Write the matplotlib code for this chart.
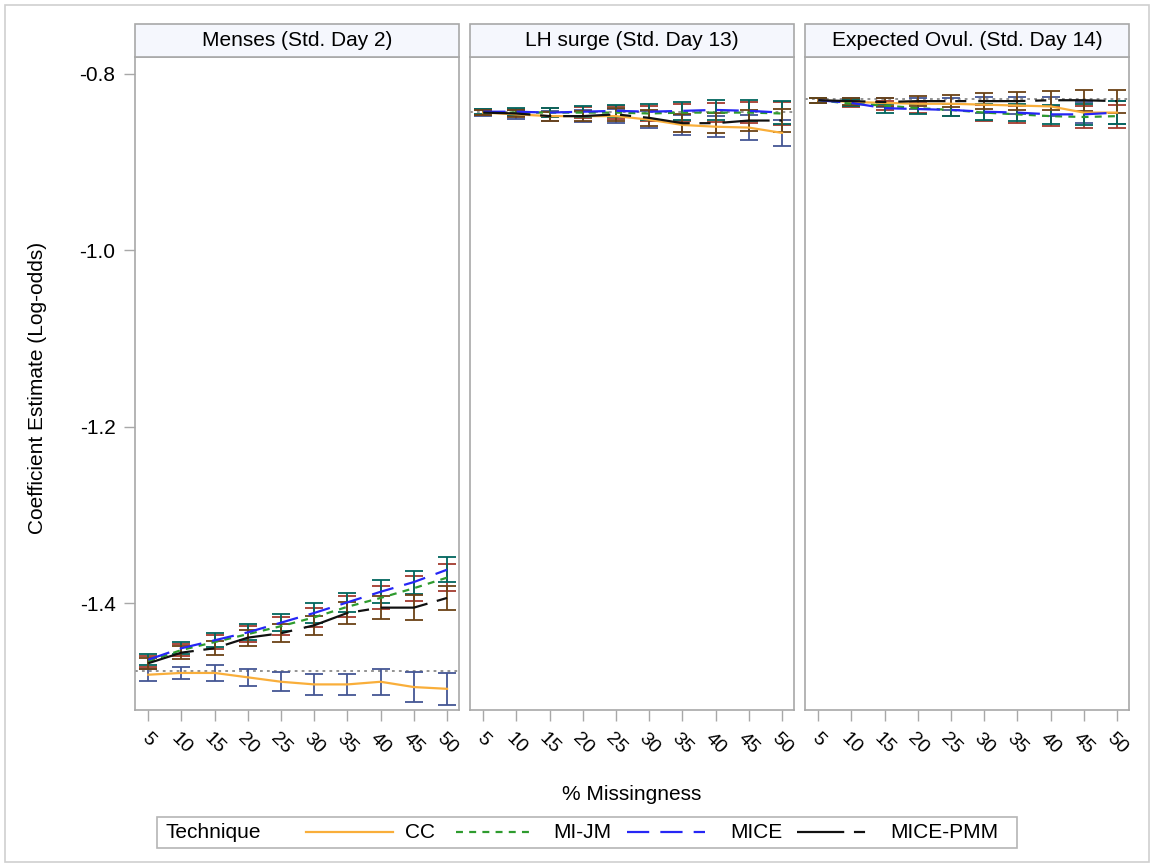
import matplotlib
matplotlib.use('Agg')
import matplotlib.pyplot as plt
from matplotlib.lines import Line2D
from matplotlib.patches import Rectangle

plt.rcParams['font.family'] = ['Liberation Sans', 'DejaVu Sans']
plt.rcParams['lines.scale_dashes'] = False

# data
missing = [5, 10, 15, 20, 25, 30, 35, 40, 45, 50]
panel_titles = ['Menses (Std. Day 2)', 'LH surge (Std. Day 13)', 'Expected Ovul. (Std. Day 14)']
techniques = ['CC', 'MI-JM', 'MICE', 'MICE-PMM']
true_values = [-1.477, -0.843, -0.829]

# Menses
menses_cc = [-1.481, -1.479, -1.479, -1.484, -1.489, -1.492, -1.492, -1.489, -1.495, -1.497]
menses_cc_hw = [0.007, 0.007, 0.009, 0.010, 0.011, 0.012, 0.012, 0.015, 0.017, 0.018]
menses_mijm = [-1.466, -1.453, -1.444, -1.435, -1.426, -1.416, -1.404, -1.394, -1.383, -1.371]
menses_mijm_hw = [0.006, 0.007, 0.008, 0.009, 0.010, 0.011, 0.012, 0.013, 0.014, 0.015]
menses_mice = [-1.464, -1.451, -1.442, -1.433, -1.422, -1.411, -1.399, -1.387, -1.376, -1.362]
menses_mice_hw = [0.006, 0.007, 0.008, 0.009, 0.010, 0.011, 0.011, 0.013, 0.013, 0.014]
menses_pmm = [-1.468, -1.456, -1.451, -1.439, -1.434, -1.425, -1.411, -1.405, -1.405, -1.394]
menses_pmm_hw = [0.006, 0.007, 0.008, 0.009, 0.010, 0.011, 0.012, 0.013, 0.014, 0.014]

# LH surge
lh_cc = [-0.844, -0.846, -0.848, -0.848, -0.848, -0.852, -0.858, -0.860, -0.861, -0.867]
lh_cc_hw = [0.004, 0.005, 0.006, 0.007, 0.008, 0.010, 0.011, 0.012, 0.014, 0.015]
lh_mijm = [-0.844, -0.844, -0.844, -0.844, -0.844, -0.845, -0.844, -0.844, -0.844, -0.845]
lh_mijm_hw = [0.003, 0.004, 0.005, 0.006, 0.007, 0.009, 0.010, 0.011, 0.012, 0.013]
lh_mice = [-0.843, -0.843, -0.844, -0.843, -0.842, -0.843, -0.842, -0.841, -0.842, -0.844]
lh_mice_hw = [0.003, 0.004, 0.005, 0.006, 0.007, 0.009, 0.010, 0.011, 0.012, 0.013]
lh_pmm = [-0.844, -0.845, -0.848, -0.848, -0.846, -0.850, -0.856, -0.856, -0.853, -0.853]
lh_pmm_hw = [0.003, 0.004, 0.005, 0.006, 0.007, 0.009, 0.010, 0.011, 0.012, 0.013]

# Expected ovulation
ov_cc = [-0.830, -0.832, -0.833, -0.834, -0.834, -0.835, -0.836, -0.837, -0.844, -0.844]
ov_cc_hw = [0.003, 0.004, 0.005, 0.006, 0.007, 0.009, 0.010, 0.011, 0.012, 0.013]
ov_mijm = [-0.830, -0.834, -0.836, -0.839, -0.841, -0.844, -0.846, -0.848, -0.849, -0.848]
ov_mijm_hw = [0.003, 0.004, 0.005, 0.006, 0.007, 0.009, 0.010, 0.011, 0.012, 0.013]
ov_mice = [-0.830, -0.833, -0.839, -0.840, -0.841, -0.843, -0.844, -0.846, -0.846, -0.844]
ov_mice_hw = [0.003, 0.004, 0.005, 0.006, 0.007, 0.009, 0.010, 0.011, 0.012, 0.013]
ov_pmm = [-0.830, -0.831, -0.832, -0.831, -0.831, -0.831, -0.831, -0.830, -0.830, -0.831]
ov_pmm_hw = [0.003, 0.004, 0.005, 0.006, 0.007, 0.009, 0.010, 0.011, 0.012, 0.013]

panel_data = [
    [(menses_cc, menses_cc_hw), (menses_mijm, menses_mijm_hw), (menses_mice, menses_mice_hw), (menses_pmm, menses_pmm_hw)],
    [(lh_cc, lh_cc_hw), (lh_mijm, lh_mijm_hw), (lh_mice, lh_mice_hw), (lh_pmm, lh_pmm_hw)],
    [(ov_cc, ov_cc_hw), (ov_mijm, ov_mijm_hw), (ov_mice, ov_mice_hw), (ov_pmm, ov_pmm_hw)],
]

line_colors = ['#F9AE3A', '#2E9B2E', '#2626F5', '#111111']
line_dashes = [None, (0, (5, 4.5)), (0, (16, 8)), (0, (34, 7, 8, 8.6))]
bar_colors = ['#445694', '#A23A2E', '#01665E', '#6B4216']
frame_col = '#A8A8A8'

W, H = 1154, 867
fig = plt.figure(figsize=(W / 100, H / 100), dpi=100)

# outer border
fig.patches.append(Rectangle((5 / W, 5 / H), 1144 / W, 857 / H, transform=fig.transFigure,
                             fill=False, edgecolor='#CFCFCF', lw=1.2))

lefts = [135, 470, 805]
pw = 324
ptop, pbot = 57, 710
axes = []
for i, left in enumerate(lefts):
    ax = fig.add_axes([left / W, 1 - pbot / H, pw / W, (pbot - ptop) / H])
    axes.append(ax)
    ax.axhline(true_values[i], color='#8A8A8A', lw=1.3, ls=(0, (2, 3)), zorder=1)
    # error bars first, then the lines on top
    for j, (est, hw) in enumerate(panel_data[i]):
        ax.errorbar(missing, est, yerr=hw, fmt='none', ecolor=bar_colors[j],
                    elinewidth=1.3, capsize=6.5, capthick=1.3, zorder=2)
    for j, (est, hw) in enumerate(panel_data[i]):
        ls = '-' if line_dashes[j] is None else line_dashes[j]
        ax.plot(missing, est, color=line_colors[j], lw=1.6, ls=ls, zorder=3)

    ax.set_xlim(3.0, 51.8)
    ax.set_ylim(-1.521, -0.781)
    ax.set_xticks(missing)
    ax.set_xticklabels([str(m) for m in missing], rotation=-45, ha='center', va='top', fontsize=14)
    ax.tick_params(axis='x', length=8, width=1, color=frame_col, pad=6)
    for s in ax.spines.values():
        s.set_color(frame_col)
        s.set_linewidth(1.2)
    if i == 0:
        ax.set_yticks([-1.4, -1.2, -1.0, -0.8])
        ax.set_yticklabels(['-1.4', '-1.2', '-1.0', '-0.8'], fontsize=15)
        ax.tick_params(axis='y', length=8, width=1, color=frame_col, pad=6)
    else:
        ax.set_yticks([])

    # strip header
    fig.patches.append(Rectangle((left / W, 1 - ptop / H), pw / W, 33 / H, transform=fig.transFigure,
                                 facecolor='#F5F7FD', edgecolor=frame_col, lw=1.2))
    fig.text((left + pw / 2) / W, 1 - 40.5 / H, panel_titles[i], ha='center', va='center', fontsize=15)

fig.text(38 / W, 1 - 388 / H, 'Coefficient Estimate (Log-odds)', rotation=90,
         ha='center', va='center', fontsize=15)
fig.text(632 / W, 1 - 795 / H, '% Missingness', ha='center', va='center', fontsize=15)

# legend drawn by hand so the title sits on the left like the original
fig.patches.append(Rectangle((157 / W, 1 - 848 / H), 860 / W, 31 / H, transform=fig.transFigure,
                             fill=False, edgecolor='#B5B5B5', lw=1.2))
ly = 1 - 832 / H
fig.text(166 / W, ly, 'Technique', ha='left', va='center', fontsize=15)
leg_x = [(306, 393, 405), (456, 535, 553), (627, 705, 730), (797, 877, 890)]
for j, (x0, x1, tx) in enumerate(leg_x):
    ls = '-' if line_dashes[j] is None else line_dashes[j]
    fig.lines.append(Line2D([x0 / W, x1 / W], [ly, ly], transform=fig.transFigure,
                            color=line_colors[j], lw=1.6, ls=ls))
    fig.text(tx / W, ly, techniques[j], ha='left', va='center', fontsize=15)

fig.savefig('out.png', dpi=100)
